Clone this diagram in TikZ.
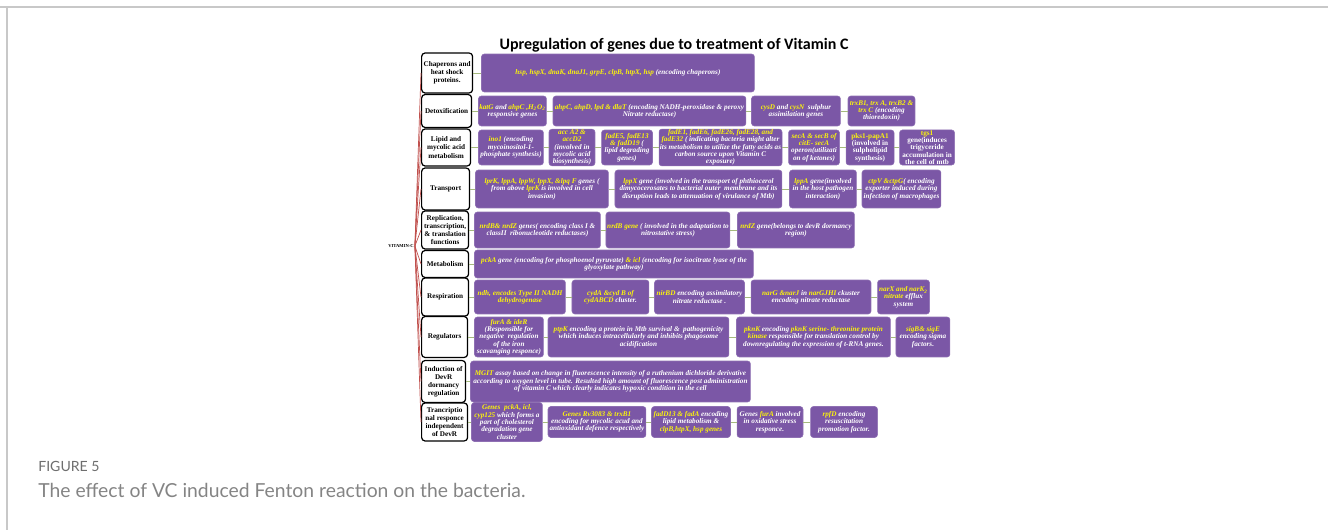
\documentclass[tikz,border=0pt]{standalone}
\usepackage{fontspec}
\setmainfont{Liberation Serif}
\newfontfamily\titlefont{Carlito}
\newfontfamily\capfont{Lato}
\usetikzlibrary{positioning}
\definecolor{vcpurple}{RGB}{123,87,166}
\definecolor{genegold}{RGB}{252,245,10}
\definecolor{fanred}{RGB}{192,80,77}
\definecolor{linkgreen}{RGB}{165,185,125}
\definecolor{framegray}{RGB}{200,200,200}
\definecolor{capgray}{RGB}{110,110,110}
\newcommand{\gn}[1]{\textcolor{genegold}{#1}}

\begin{document}
\begin{tikzpicture}[x=0.02cm,y=-0.02cm]
\tikzstyle{group}=[rectangle, rounded corners=2pt, draw=black, line width=0.7pt, fill=white, align=center, inner sep=0.3pt, font=\bfseries\fontsize{4.1}{4.6}\selectfont, anchor=west]
\tikzstyle{gene}=[rectangle, rounded corners=1.6pt, fill=vcpurple, draw=vcpurple!85!white, line width=0.3pt, text=white, align=center, inner sep=0.3pt, font=\bfseries\itshape\fontsize{4.1}{4.15}\selectfont]
\tikzstyle{geneup}=[gene, font=\bfseries\fontsize{4.1}{4.15}\selectfont]
\tikzstyle{link}=[draw=linkgreen, line width=0.4pt]
\tikzstyle{fan}=[draw=fanred, line width=0.4pt]
\useasboundingbox (0,0) rectangle (1328,530);
  % frame
  \draw[framegray, line width=0.8pt] (0,7) -- (1328,7);
  \draw[framegray, line width=0.8pt] (7,7) -- (7,530);
  % title
  \node[font=\titlefont\bfseries\fontsize{9.1}{11}\selectfont] (title) at (674,45) {Upregulation of genes due to treatment of Vitamin C};
  \node[font=\bfseries\fontsize{2.6}{3}\selectfont, inner sep=0.5pt] (vit) at (401,246) {VITAMIN-C};
  % chaperons
  \node[group, minimum width=1.02cm, minimum height=0.80cm] (chap) at (421,73) {Chaperons and\\heat shock\\proteins.};
  \node[gene, minimum width=5.46cm, minimum height=0.76cm, right=0.16cm of chap] (c1) {\gn{hsp, hspX, dnaK, dnaJ1, grpE, clpB, htpX, hsp} (encoding chaperons)};
  % detoxification
  \node[group, minimum width=1.00cm, minimum height=0.66cm] (detox) at (421,111) {Detoxification};
  \node[gene, minimum width=1.36cm, minimum height=0.60cm, right=0.12cm of detox] (d1) {\gn{katG} and \gn{ahpC ,H\textsubscript{2}O\textsubscript{2}}\\responsive genes};
  \node[gene, minimum width=3.86cm, minimum height=0.60cm, right=0.12cm of d1] (d2) {\gn{ahpC, ahpD, lpd \& dlaT} (encoding NADH-peroxidase \& peroxy\\Nitrate reductase)};
  \node[gene, minimum width=1.78cm, minimum height=0.60cm, right=0.10cm of d2] (d3) {\gn{cysD} and \gn{cysN}\ \ sulphur\\assimilation genes};
  \node[gene, minimum width=1.34cm, minimum height=0.60cm, right=0.14cm of d3] (d4) {\gn{trxB1, trx A, trxB2 \&}\\\gn{trx C} (encoding\\thioredoxin)};
  % lipid
  \node[group, minimum width=0.98cm, minimum height=0.74cm] (lipid) at (421,147.5) {Lipid and\\mycolic acid\\metabolism};
  \node[gene, minimum width=1.30cm, minimum height=0.70cm, right=0.14cm of lipid] (l1) {\gn{ino1} (encoding\\mycoinositol-1-\\phosphate synthesis)};
  \node[gene, minimum width=0.92cm, minimum height=0.70cm, right=0.10cm of l1] (l2) {\gn{acc A2 \&}\\\gn{accD2}\\(involved in\\mycolic acid\\biosynthesis)};
  \node[gene, minimum width=1.02cm, minimum height=0.70cm, right=0.12cm of l2] (l3) {\gn{fadE5, fadE13}\\\gn{\& fadD19} (\\lipid degrading\\genes)};
  \node[gene, minimum width=2.46cm, minimum height=0.70cm, right=0.12cm of l3] (l4) {\gn{fadE1, fadE6, fadE26, fadE28, and}\\\gn{fadE32} ( indicating bacteria might alter\\its metabolism to utilize the fatty acids as\\carbon source upon Vitamin C\\exposure)};
  \node[gene, minimum width=1.02cm, minimum height=0.70cm, right=0.12cm of l4] (l5) {\gn{secA \& secB of}\\\gn{citE- secA}\\operon(utilizati\\on of ketones)};
  \node[geneup, minimum width=0.96cm, minimum height=0.70cm, right=0.12cm of l5] (l6) {\gn{pks1-papA1}\\(involved in\\sulpholipid\\synthesis)};
  \node[geneup, minimum width=1.10cm, minimum height=0.70cm, right=0.10cm of l6] (l7) {\gn{tgs1}\\gene(induces\\trigyceride\\accumulation in\\the cell of mtb};
  % transport
  \node[group, minimum width=0.96cm, minimum height=0.84cm] (trans) at (421,189) {Transport};
  \node[gene, minimum width=2.66cm, minimum height=0.76cm, right=0.10cm of trans] (t1) {\gn{lprK, lppA, lppW, lppX, \&lpq F} genes (\\from above \gn{lprK} is involved in cell\\invasion)};
  \node[gene, minimum width=3.34cm, minimum height=0.76cm, right=0.12cm of t1] (t2) {\gn{lppX} gene (involved in the transport of phthiocerol\\dimycocerosates to bacterial outer\ \ membrane and its\\disruption leads to attenuation of virulance of Mtb)};
  \node[gene, minimum width=1.34cm, minimum height=0.76cm, right=0.14cm of t2] (t3) {\gn{lppA} gene(involved\\in the host pathogen\\interaction)};
  \node[gene, minimum width=1.58cm, minimum height=0.76cm, right=0.10cm of t3] (t4) {\gn{ctpV \&ctpG}( encoding\\exporter induced during\\infection of macrophages};
  % replication
  \node[group, minimum width=0.94cm, minimum height=0.76cm] (repl) at (421,230) {Replication,\\transcription,\\\& translation\\functions};
  \node[gene, minimum width=2.52cm, minimum height=0.72cm, right=0.10cm of repl] (r1) {\gn{nrdB\& nrdZ} genes( encoding class I \&\\classII\ \ ribonucleotide reductases)};
  \node[gene, minimum width=2.48cm, minimum height=0.72cm, right=0.10cm of r1] (r2) {\gn{nrdB gene} ( involved in the adaptation to\\nitrostative stress)};
  \node[gene, minimum width=2.34cm, minimum height=0.72cm, right=0.14cm of r2] (r3) {\gn{nrdZ} gene(belongs to devR dormancy\\region)};
  % metabolism
  \node[group, minimum width=0.94cm, minimum height=0.54cm] (meta) at (421,264) {Metabolism};
  \node[gene, minimum width=5.58cm, minimum height=0.56cm, right=0.10cm of meta] (m1) {\gn{pckA} gene (encoding for phosphoenol pyruvate) \gn{\& icl} (encoding for isocitrate lyase of the\\glyoxylate pathway)};
  % respiration
  \node[group, minimum width=0.94cm, minimum height=0.76cm] (resp) at (421,297) {Respiration};
  \node[gene, minimum width=1.82cm, minimum height=0.68cm, right=0.10cm of resp] (p1) {\gn{ndh, encodes Type II NADH}\\\gn{dehydrogenase}};
  \node[gene, minimum width=1.54cm, minimum height=0.68cm, right=0.12cm of p1] (p2) {\gn{cydA \&cyd B of}\\\gn{cydABCD} cluster.};
  \node[gene, minimum width=1.80cm, minimum height=0.68cm, right=0.10cm of p2] (p3) {\gn{nirBD} encoding assimilatory\\nitrate reductase .};
  \node[gene, minimum width=2.40cm, minimum height=0.68cm, right=0.12cm of p3] (p4) {\gn{narG \&narJ} in \gn{narGJHI} ckuster\\encoding nitrate reductase};
  \node[gene, minimum width=1.04cm, minimum height=0.68cm, right=0.12cm of p4] (p5) {\gn{narX and narK\textsubscript{2}}\\\gn{nitrate} efflux\\system};
  % regulators
  \node[group, minimum width=0.92cm, minimum height=0.82cm] (regu) at (421,337) {Regulators};
  \node[gene, minimum width=1.38cm, minimum height=0.80cm, right=0.12cm of regu] (g1) {\gn{furA \& ideR}\\(Responsible for\\negative\ \ regulation\\of the iron\\scavanging responce)};
  \node[gene, minimum width=3.62cm, minimum height=0.80cm, right=0.08cm of g1] (g2) {\gn{ptpK} encoding a protein in Mtb survival \&\ \ pathogenicity\\which induces intracellularly and inhibits phagosome\\acidification};
  \node[gene, minimum width=3.08cm, minimum height=0.80cm, right=0.14cm of g2] (g3) {\gn{pknK} encoding \gn{pknK serine- threonine protein}\\\gn{kinase} responsible for translation control by\\downregulating the expression of t-RNA genes.};
  \node[gene, minimum width=1.08cm, minimum height=0.80cm, right=0.10cm of g3] (g4) {\gn{sigB\& sigE}\\encoding sigma\\factors.};
  % devR induction
  \node[group, minimum width=0.88cm, minimum height=0.84cm] (indu) at (421,381.5) {Induction of\\DevR\\dormancy\\regulation};
  \node[gene, minimum width=5.60cm, minimum height=0.82cm, right=0.08cm of indu] (i1) {\gn{MGIT} assay based on change in fluorescence intensity of a ruthenium dichloride derivative\\according to oxygen level in tube. Resulted high amount of fluorescence post administration\\of vitamin C which clearly indicates hypoxic condition in the cell};
  % devR independent
  \node[group, minimum width=0.92cm, minimum height=0.76cm] (tind) at (421,422) {Trancriptio\\nal responce\\independent\\of DevR};
  \node[gene, minimum width=1.42cm, minimum height=0.78cm, right=0.06cm of tind] (n1) {\gn{Genes\ \ pckA, icl,}\\\gn{cyp125} which forms a\\part of cholesterol\\degradation gene\\cluster};
  \node[gene, minimum width=1.96cm, minimum height=0.62cm, right=0.10cm of n1] (n2) {\gn{Genes Rv3083 \& trxB1}\\encoding for mycolic acud and\\antioxidant defence respectively};
  \node[gene, minimum width=1.58cm, minimum height=0.62cm, right=0.10cm of n2] (n3) {\gn{fadD13 \& fadA} encoding\\lipid metabolism \&\\\gn{clpB,htpX, hsp genes}};
  \node[gene, minimum width=1.32cm, minimum height=0.62cm, right=0.12cm of n3] (n4) {Genes \gn{furA} involved\\in oxidative stress\\responce.};
  \node[gene, minimum width=1.34cm, minimum height=0.62cm, right=0.14cm of n4] (n5) {\gn{rpfD} encoding\\resuscitation\\promotion factor.};
  % vitamin C fan
  \path (vit.east) edge [fan] (chap.west)
        (vit.east) edge [fan] (detox.west)
        (vit.east) edge [fan] (lipid.west)
        (vit.east) edge [fan] (trans.west)
        (vit.east) edge [fan] (repl.west)
        (vit.east) edge [fan] (meta.west)
        (vit.east) edge [fan] (resp.west)
        (vit.east) edge [fan] (regu.west)
        (vit.east) edge [fan] (indu.west)
        (vit.east) edge [fan] (tind.west);
  % rows
  \path (chap) edge [link] (c1)
        (detox) edge [link] (d1) (d1) edge [link] (d2) (d2) edge [link] (d3) (d3) edge [link] (d4)
        (lipid) edge [link] (l1) (l1) edge [link] (l2) (l2) edge [link] (l3) (l3) edge [link] (l4)
        (l4) edge [link] (l5) (l5) edge [link] (l6) (l6) edge [link] (l7)
        (trans) edge [link] (t1) (t1) edge [link] (t2) (t2) edge [link] (t3) (t3) edge [link] (t4)
        (repl) edge [link] (r1) (r1) edge [link] (r2) (r2) edge [link] (r3)
        (meta) edge [link] (m1)
        (resp) edge [link] (p1) (p1) edge [link] (p2) (p2) edge [link] (p3) (p3) edge [link] (p4) (p4) edge [link] (p5)
        (regu) edge [link] (g1) (g1) edge [link] (g2) (g2) edge [link] (g3) (g3) edge [link] (g4)
        (indu) edge [link] (i1)
        (tind) edge [link] (n1) (n1) edge [link] (n2) (n2) edge [link] (n3) (n3) edge [link] (n4) (n4) edge [link] (n5);
  % caption
  \node[anchor=base west, inner sep=0pt, text=capgray, font=\capfont\fontsize{8}{9}\selectfont] (fig) at (38,471) {FIGURE 5};
  \node[anchor=base west, inner sep=0pt, text=capgray!85, font=\capfont\fontsize{11}{13}\selectfont] (cap) at (38,497) {The effect of VC induced Fenton reaction on the bacteria.};
\end{tikzpicture}
\end{document}
